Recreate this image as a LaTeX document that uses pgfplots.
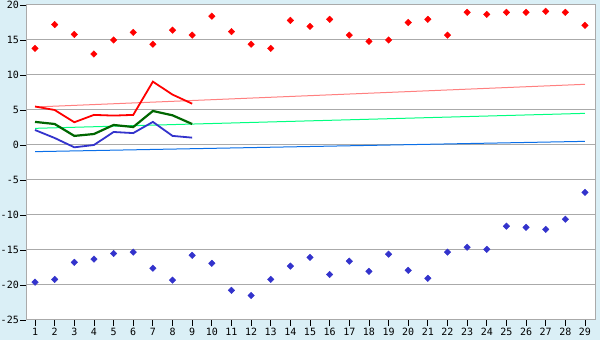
\documentclass[border=0pt]{standalone}
\usepackage{pgfplots}
\pgfplotsset{compat=1.18}
\usepackage{fontspec}
\setmainfont{DejaVu Sans}
\setmonofont{DejaVu Sans Mono}
\definecolor{bgblue}{HTML}{DAEFF6}
\definecolor{gridgray}{HTML}{AAAAAA}
\definecolor{ptred}{HTML}{FF0000}
\definecolor{ptblue}{HTML}{3333CC}
\definecolor{lnred}{HTML}{FF0000}
\definecolor{lngreen}{HTML}{006600}
\definecolor{lnblue}{HTML}{3333CC}
\definecolor{trpink}{HTML}{FF8080}
\definecolor{trgreen}{HTML}{00FF80}
\definecolor{trblue}{HTML}{0A6FE8}
\begin{document}
\begin{tikzpicture}[x=1pt,y=1pt]
\useasboundingbox (0,0) rectangle (600,340);
\fill[bgblue] (0,0) rectangle (600,340);
\begin{axis}[
  at={(26pt,20pt)}, anchor=south west,
  scale only axis, width=569pt, height=315pt,
  xmin=0.54, xmax=29.51, ymin=-25, ymax=20,
  axis background/.style={fill=white},
  axis line style={gridgray, line width=1pt},
  xtick={1,...,29}, ytick={-25,-20,...,20},
  xtick pos=bottom, ytick pos=left,
  tick align=outside, major tick length=6pt,
  tick style={black, line width=0.8pt},
  ymajorgrids, grid style={gridgray, line width=1pt},
  ticklabel style={font=\ttfamily\fontsize{10}{12}\selectfont},
  /pgf/number format/assume math mode=true,
  xticklabel style={yshift=1pt},
  yticklabel style={inner xsep=1pt, xshift=0pt},
  clip=false,
]
% trend lines
\addplot[trpink, line width=1pt] coordinates {(1,5.43) (29,8.67)};
\addplot[trgreen, line width=1pt] coordinates {(1,2.38) (29,4.52)};
\addplot[trblue, line width=1pt] coordinates {(1,-0.95) (29,0.52)};
% lines for the first 9 days
\addplot[lnred, line width=1.8pt] coordinates {
(1,5.5) (2,5.0) (3,3.25) (4,4.3) (5,4.2) (6,4.3) (7,9.05) (8,7.2) (9,5.9)};
\addplot[lngreen, line width=2.2pt] coordinates {
(1,3.3) (2,3.0) (3,1.3) (4,1.57) (5,2.86) (6,2.57) (7,4.86) (8,4.24) (9,3.0)};
\addplot[lnblue, line width=1.8pt] coordinates {
(1,2.14) (2,1.0) (3,-0.33) (4,0.0) (5,1.86) (6,1.7) (7,3.3) (8,1.3) (9,1.05)};
% maxima
\addplot[only marks, mark=square*, mark size=2.3pt, mark options={rotate=45}, color=ptred] coordinates {
(1,13.8) (2,17.2) (3,15.8) (4,13.0) (5,15.0) (6,16.1) (7,14.4) (8,16.4) (9,15.7)
(10,18.4) (11,16.2) (12,14.4) (13,13.8) (14,17.8) (15,16.95) (16,17.95) (17,15.7)
(18,14.8) (19,15.0) (20,17.5) (21,17.95) (22,15.7) (23,18.95) (24,18.66) (25,18.95)
(26,18.95) (27,19.1) (28,18.95) (29,17.1)};
% minima
\addplot[only marks, mark=square*, mark size=2.3pt, mark options={rotate=45}, color=ptblue] coordinates {
(1,-19.6) (2,-19.2) (3,-16.76) (4,-16.3) (5,-15.5) (6,-15.3) (7,-17.6) (8,-19.3)
(9,-15.76) (10,-16.9) (11,-20.76) (12,-21.5) (13,-19.2) (14,-17.3) (15,-16.05)
(16,-18.5) (17,-16.6) (18,-18.05) (19,-15.6) (20,-17.9) (21,-19.05) (22,-15.3)
(23,-14.6) (24,-14.9) (25,-11.6) (26,-11.76) (27,-12.05) (28,-10.6) (29,-6.76)};
\end{axis}
\end{tikzpicture}
\end{document}
